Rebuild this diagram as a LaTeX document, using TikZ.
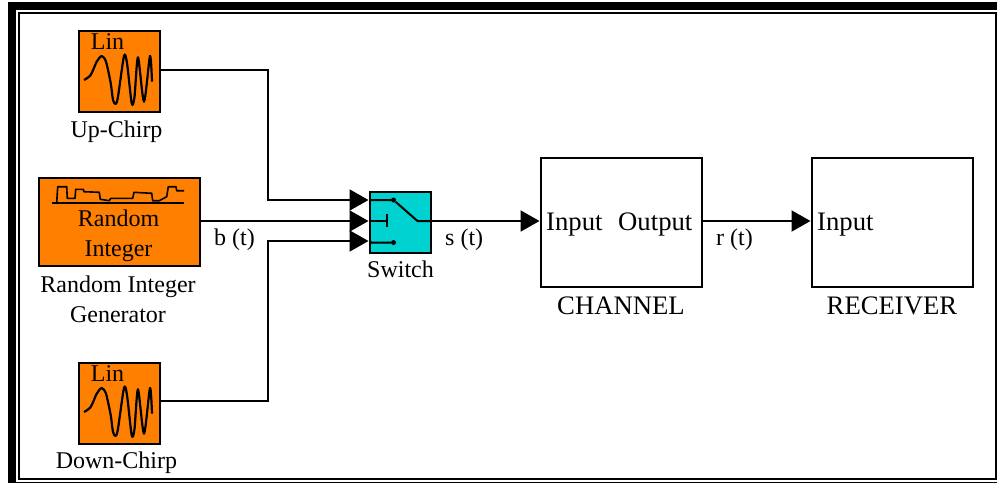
\documentclass[tikz,border=0pt]{standalone}
\usepackage{fontspec}
\setmainfont{Liberation Serif}
\usetikzlibrary{arrows.meta}
\definecolor{blockorange}{RGB}{255,128,0}
\definecolor{switchcyan}{RGB}{0,210,210}
\tikzset{
  blockbox/.style={draw=black,line width=1.9pt,inner sep=0pt,outer sep=0pt,anchor=north west},
  orangebox/.style={blockbox,fill=blockorange},
  cyanbox/.style={blockbox,fill=switchcyan},
  whitebox/.style={blockbox,fill=white},
  lbl/.style={inner sep=0pt,anchor=base,font=\fontsize{24}{24}\selectfont},
  lbll/.style={lbl,anchor=base west},
  biglbl/.style={lbl,font=\fontsize{26.7}{27}\selectfont},
  biglbll/.style={biglbl,anchor=base west},
  wire/.style={draw=black,line width=2pt},
  arrowwire/.style={wire,-{Triangle[length=19pt,width=21pt]},shorten >=1.5pt},
  iconline/.style={draw=black,line width=2pt,line join=round},
  dotmark/.style={circle,fill=black,inner sep=0pt,minimum size=5pt},
}
\newcommand{\chirp}{%
  plot[smooth,tension=0.45] coordinates {(84,80) (90.7,75) (96.7,61.7) (101.7,56) (106,61.7) (110.7,83) (113,100) (115.7,104) (118,96.7) (124,56) (127,63) (131.7,103.3) (134.5,97) (138,57.3) (144,101.7) (150,56) (152,81.7)}}
\begin{document}
\begin{tikzpicture}[x=1pt,y=-1pt]
\useasboundingbox (0,0) rectangle (997,483);
\fill[white] (0,0) rectangle (997,483);
% frame
\fill[black] (8,2) rectangle (997,10);
\fill[black] (8,2) rectangle (16,483);
\draw[black,line width=2pt] (19,13) -- (996,13) -- (996,479) -- (19,479) -- cycle;
\draw[black,line width=1pt] (16,482) -- (997,482);
% blocks
\node[orangebox,minimum width=81pt,minimum height=81pt] (up) at (79,31) {};
\node[orangebox,minimum width=161pt,minimum height=88pt] (rnd) at (39,178) {};
\node[orangebox,minimum width=81pt,minimum height=81pt] (down) at (79,363) {};
\node[cyanbox,minimum width=61pt,minimum height=61pt] (sw) at (370,192) {};
\node[whitebox,minimum width=161pt,minimum height=129pt] (chan) at (541,158) {};
\node[whitebox,minimum width=161pt,minimum height=129pt] (recv) at (812,158) {};
% icons
\draw[iconline,line width=2.2pt] \chirp;
\begin{scope}[yshift=-332pt]
\draw[iconline,line width=2.2pt] \chirp;
\end{scope}
\draw[iconline,line width=1.6pt] (51.7,202.7) -- (184,202.7);
\draw[iconline,line width=1.6pt] (56.7,203) -- (57.7,186.7) -- (66.7,186.7) -- (67.3,198.3) -- (75,198.3) -- (75.7,189.3) -- (83.3,189.3) -- (84,191.7) -- (99.3,192.3) -- (100.3,199.3) -- (109.3,200.7) -- (110.7,198.3) -- (132.7,198.3) -- (134,192.3) -- (151.7,193.3) -- (152.7,200.7) -- (159.3,200.7) -- (166.7,196.7) -- (168.3,186.7) -- (176,186.7) -- (176.7,190.7) -- (184,190.7);
% switch icon
\coordinate (in1) at (370,200);
\coordinate (in2) at (370,221);
\coordinate (in3) at (370,241);
\coordinate (swout) at (431,221);
\node[dotmark] (d1) at (393.5,200) {};
\node[dotmark] (d3) at (393.5,242.5) {};
\coordinate (pivot) at (417.5,221);
\coordinate (stub) at (387.3,221);
\draw[iconline] (in1) -- (d1) -- (pivot) -- (swout);
\draw[iconline] (in2) -- (stub);
\draw[iconline] (387.3,214) -- (387.3,227);
\draw[iconline] (in3) -- (371,242.5) -- (d3);
% ports and wires
\coordinate (upout) at (160,70);
\coordinate (rndout) at (200,221);
\coordinate (downout) at (160,401);
\coordinate (chanin) at (541,221);
\coordinate (chanout) at (702,221);
\coordinate (recvin) at (812,221);
\draw[arrowwire] (upout) -| (268,200) -- (in1);
\draw[arrowwire] (rndout) -- (in2);
\draw[arrowwire] (downout) -| (268,241) -- (in3);
\draw[arrowwire] (swout) -- (chanin);
\draw[arrowwire] (chanout) -- (recvin);
% labels
\node[lbl] (t1) at (107.5,49) {Lin};
\node[lbl] (t2) at (107.5,381) {Lin};
\node[lbl] (t3) at (116.5,137) {Up-Chirp};
\node[lbl] (t4) at (116.5,468) {Down-Chirp};
\node[lbl] (t5) at (118.5,226) {Random};
\node[lbl] (t6) at (118.5,256) {Integer};
\node[lbl] (t7) at (118,292) {Random Integer};
\node[lbl] (t8) at (118,322) {Generator};
\node[lbl] (t9) at (400.5,277) {Switch};
\node[lbll] (t10) at (214,245) {b (t)};
\node[lbll] (t11) at (445,245) {s (t)};
\node[lbll] (t12) at (716,245) {r (t)};
\node[biglbll] (t13) at (546,230) {Input};
\node[biglbll] (t14) at (618,230) {Output};
\node[biglbll] (t15) at (817,230) {Input};
\node[biglbl] (t16) at (621,314) {CHANNEL};
\node[biglbl] (t17) at (892,314) {RECEIVER};
\end{tikzpicture}
\end{document}
